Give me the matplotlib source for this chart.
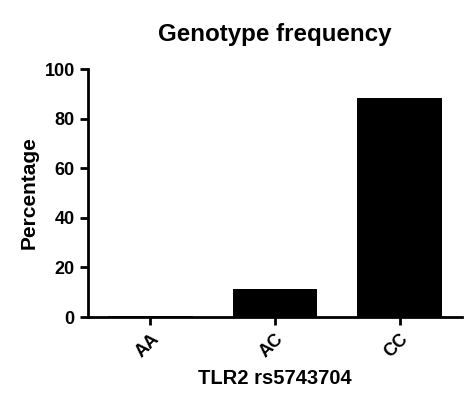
import matplotlib
matplotlib.use('Agg')
import matplotlib.pyplot as plt

genotypes = ['AA', 'AC', 'CC']
percent = [0.6, 11.3, 88.5]
y_ticks = [0, 20, 40, 60, 80, 100]

plt.rcParams['font.family'] = ['Liberation Sans', 'DejaVu Sans']
plt.rcParams['font.weight'] = 'bold'

fig = plt.figure(figsize=(4.74, 4.08), dpi=100)
ax = fig.add_axes([88/474, 1 - 317/408, (462-88)/474, (317-69)/408])

ax.bar(range(len(genotypes)), percent, width=0.68, color='black')
ax.set_xlim(-0.5, 2.5)
ax.set_ylim(0, 100)
ax.set_yticks(y_ticks)
ax.set_xticks(range(len(genotypes)))
ax.set_xticklabels(genotypes, rotation=45, ha='right', rotation_mode='anchor')

for s in ['top', 'right']:
    ax.spines[s].set_visible(False)
for s in ['left', 'bottom']:
    ax.spines[s].set_linewidth(2)
ax.tick_params(width=2, length=6, labelsize=13, direction='out')

ax.set_ylabel('Percentage', fontsize=15, fontweight='bold')
ax.set_xlabel('TLR2 rs5743704', fontsize=14.5, fontweight='bold', labelpad=6)
ax.set_title('Genotype frequency', fontsize=17.4, fontweight='bold', pad=20)

fig.savefig('out.png', dpi=100)
